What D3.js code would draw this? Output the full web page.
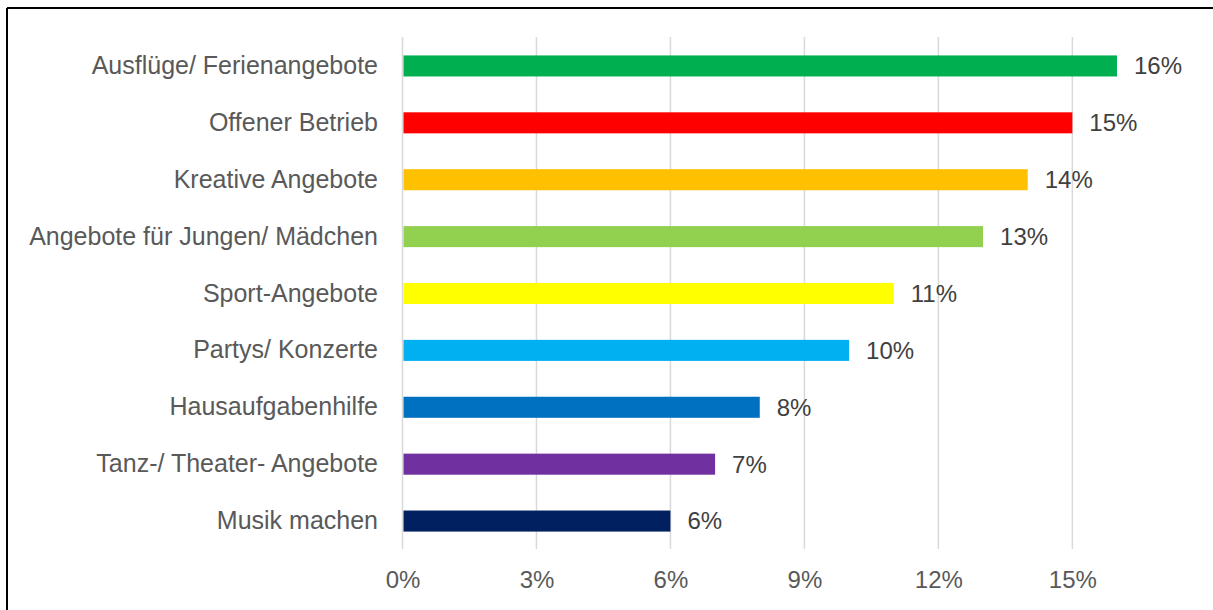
<!DOCTYPE html>
<html>
<head>
<meta charset="utf-8">
<script src="https://d3js.org/d3.v7.min.js"></script>
<style>
body {margin:0; background:white;}
svg {font-family: "Liberation Sans", Arial, sans-serif;}
</style>
</head>
<body>
<svg width="1213" height="610"></svg>
<script>
var categories = ["Ausflüge/ Ferienangebote", "Offener Betrieb", "Kreative Angebote", "Angebote für Jungen/ Mädchen", "Sport-Angebote", "Partys/ Konzerte", "Hausaufgabenhilfe", "Tanz-/ Theater- Angebote", "Musik machen"];
var values = [16, 15, 14, 13, 11, 10, 8, 7, 6];
var colors = ["#00B050", "#FF0000", "#FFC000", "#92D050", "#FFFF00", "#00B0F0", "#0070C0", "#7030A0", "#002060"];
var ticks = [0, 3, 6, 9, 12, 15];

var svg = d3.select("svg");

// frame (only left and top visible)
svg.append("line").attr("x1", 7).attr("y1", 8).attr("x2", 1213).attr("y2", 8).attr("stroke", "black").attr("stroke-width", 2);
svg.append("line").attr("x1", 7).attr("y1", 8).attr("x2", 7).attr("y2", 610).attr("stroke", "black").attr("stroke-width", 2);

var x = d3.scaleLinear().domain([0, 16]).range([402.5, 1117]);
var y = d3.scaleBand().domain(categories).range([37.5, 549.5]).paddingInner(0.63).paddingOuter(0.315);

// gridlines
svg.append("g").selectAll("line").data(ticks).enter().append("line")
  .attr("x1", function(d) { return x(d); })
  .attr("x2", function(d) { return x(d); })
  .attr("y1", 37).attr("y2", 549)
  .attr("stroke", "#d9d9d9").attr("stroke-width", 1.5);

// bars
svg.append("g").selectAll("rect").data(values).enter().append("rect")
  .attr("x", x(0) + 1)
  .attr("y", function(d, i) { return y(categories[i]); })
  .attr("width", function(d) { return x(d) - x(0) - 1; })
  .attr("height", y.bandwidth())
  .attr("fill", function(d, i) { return colors[i]; });

// value labels
svg.append("g").selectAll("text").data(values).enter().append("text")
  .attr("x", function(d) { return x(d) + 17; })
  .attr("y", function(d, i) { return y(categories[i]) + y.bandwidth() / 2; })
  .attr("dy", "0.35em")
  .attr("font-size", "24px")
  .attr("fill", "#404040")
  .text(function(d) { return d + "%"; });

// category labels
var y_axis = d3.axisLeft(y).tickSize(0).tickPadding(0);
var gy = svg.append("g").attr("transform", "translate(378,0)").call(y_axis);
gy.select(".domain").remove();
gy.selectAll("text").attr("font-size", "25px").attr("fill", "#595959").attr("font-family", "Liberation Sans");

// x tick labels
var x_axis = d3.axisBottom(x).tickValues(ticks).tickSize(0).tickPadding(0).tickFormat(function(d) { return d + "%"; });
var gx = svg.append("g").attr("transform", "translate(0,571)").call(x_axis);
gx.select(".domain").remove();
gx.selectAll("text").attr("font-size", "24px").attr("fill", "#595959").attr("font-family", "Liberation Sans");
</script>
</body>
</html>
